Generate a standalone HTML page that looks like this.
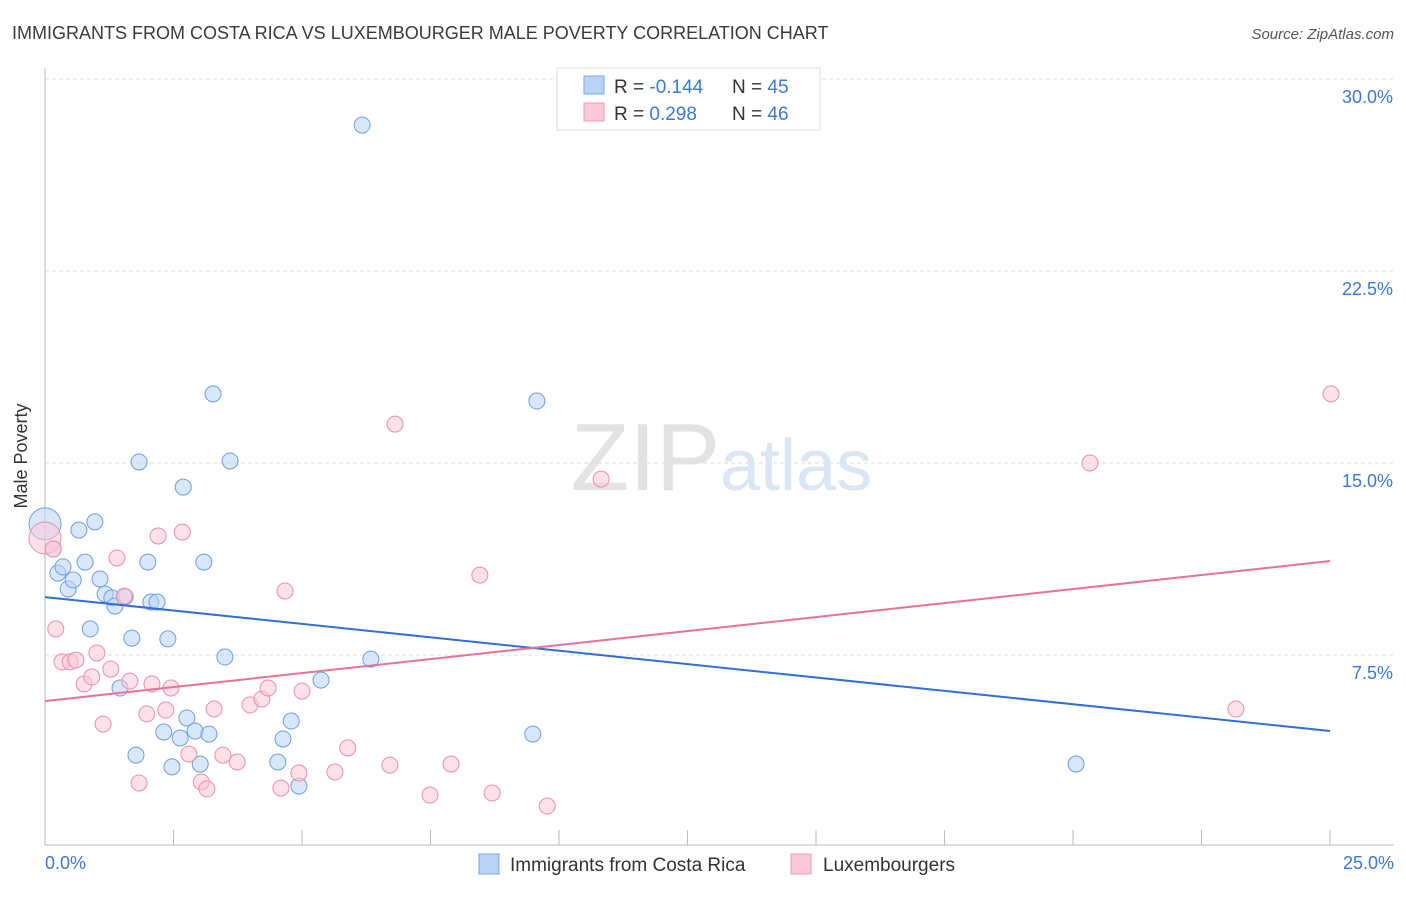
<!DOCTYPE html>
<html><head><meta charset="utf-8"><style>
body{margin:0;background:#fff;font-family:"Liberation Sans",sans-serif;}
svg text{font-family:"Liberation Sans",sans-serif;}
</style></head><body>
<svg id="chart" width="1406" height="892">
<text x="12" y="39" font-size="18" fill="#3a3a3a">IMMIGRANTS FROM COSTA RICA VS LUXEMBOURGER MALE POVERTY CORRELATION CHART</text>
<text x="1394" y="39" font-size="15" fill="#555" font-style="italic" text-anchor="end">Source: ZipAtlas.com</text>
<text x="27" y="456" font-size="18" fill="#333" text-anchor="middle" transform="rotate(-90 27 456)">Male Poverty</text>
<g id="grid"></g>
<text x="720" y="490" font-size="96" fill="#e3e3e3" text-anchor="end" font-family="Liberation Serif">ZIP</text>
<text x="720" y="490" font-size="72" fill="#dbe6f5">atlas</text>
<line x1="45" y1="68" x2="45" y2="845" stroke="#bbb"/>
<line x1="45" y1="845" x2="1394" y2="845" stroke="#bbb"/>
<g id="xt"></g>
<text x="45" y="869" font-size="18" fill="#3b78d8">0.0%</text>
<text x="1394" y="869" font-size="18" fill="#3b78d8" text-anchor="end">25.0%</text>
<g id="pts"></g>
<g id="lines"></g>
<g>
<rect x="557" y="68" width="263" height="62" fill="#fff" stroke="#ddd"/>
<rect x="584" y="76" width="20" height="18" fill="#b9d3f5" stroke="#7aa6e6"/>
<rect x="584" y="103" width="20" height="18" fill="#fbc9d7" stroke="#ef9ab3"/>
<text x="614" y="93" font-size="19" fill="#333">R = <tspan fill="#3b78d8">-0.144</tspan></text>
<text x="732" y="93" font-size="19" fill="#333">N = <tspan fill="#3b78d8">45</tspan></text>
<text x="614" y="120" font-size="19" fill="#333">R = <tspan fill="#3b78d8"> 0.298</tspan></text>
<text x="732" y="120" font-size="19" fill="#333">N = <tspan fill="#3b78d8">46</tspan></text>
</g>
<g>
<rect x="479" y="854" width="20" height="20" fill="#b9d3f5" stroke="#7aa6e6"/>
<text x="510" y="871" font-size="19" fill="#333">Immigrants from Costa Rica</text>
<rect x="791" y="854" width="20" height="20" fill="#fbc9d7" stroke="#ef9ab3"/>
<text x="823" y="871" font-size="19" fill="#333">Luxembourgers</text>
</g>
</svg>
<script>
const yTicks=[7.5,15,22.5,30];
const yTickLabels=["7.5%","15.0%","22.5%","30.0%"];
const blueX=[0,0.16,0.25,0.35,0.45,0.55,0.66,0.78,0.88,0.97,1.07,1.17,1.3,1.36,1.46,1.56,1.69,1.77,1.83,2.0,2.06,2.18,2.31,2.39,2.47,2.63,2.69,2.76,2.92,3.02,3.09,3.19,3.27,3.5,3.6,4.53,4.63,4.79,4.94,5.37,6.17,6.34,9.49,9.57,20.06];
const blueY=[12.62,11.64,10.7,10.94,10.08,10.43,12.38,11.13,8.52,12.7,10.47,9.88,9.73,9.41,6.21,9.77,8.16,3.59,15.04,11.13,9.57,9.57,4.49,8.13,3.13,4.26,14.06,5.04,4.53,3.24,11.13,4.41,17.7,7.42,15.08,3.32,4.22,4.92,2.38,6.52,28.2,7.34,4.41,17.42,3.24];
const pinkX=[0,0.16,0.21,0.33,0.49,0.6,0.76,0.91,1.01,1.13,1.28,1.4,1.54,1.65,1.83,1.98,2.08,2.2,2.35,2.45,2.67,2.8,3.04,3.15,3.29,3.46,3.74,3.99,4.22,4.34,4.59,4.67,4.94,5.0,5.64,5.89,6.71,6.81,7.49,7.9,8.46,8.7,9.77,10.82,20.33,23.17,25.02];
const pinkY=[12.07,11.64,8.52,7.23,7.23,7.3,6.37,6.64,7.58,4.8,6.95,11.29,9.8,6.48,2.5,5.2,6.37,12.15,5.35,6.21,12.3,3.63,2.54,2.27,5.39,3.59,3.32,5.55,5.78,6.21,2.3,10.0,2.89,6.09,2.93,3.87,3.2,16.52,2.03,3.24,10.62,2.11,1.6,14.37,15.0,5.39,17.7];
const blueTrend=[9.76,4.53];
const pinkTrend=[5.7,11.17];
const NS="http://www.w3.org/2000/svg";
const sx=v=>45+v/25*1285;
const sy=v=>847-v/7.5*192;
function mk(tag,attrs,parent){const e=document.createElementNS(NS,tag);for(const k in attrs)e.setAttribute(k,attrs[k]);parent.appendChild(e);return e;}
const grid=document.getElementById('grid');
yTicks.forEach((t,i)=>{
 const l=mk('line',{x1:45,x2:1394,y1:sy(t),y2:sy(t),stroke:'#ddd','stroke-dasharray':'4,3'},grid);
 
 
 const tx=mk('text',{x:1393,y:sy(t)+24,'font-size':18,fill:'#3b78d8','text-anchor':'end'},grid);
 tx.textContent=yTickLabels[i];
 
 
});
const xt=document.getElementById('xt');
for(let i=1;i<=10;i++){
 const l=mk('line',{x1:sx(i*2.5),x2:sx(i*2.5),y1:830,y2:845,stroke:'#bbb'},xt);
 
 
}
const pts=document.getElementById('pts');
function dots(X,Y,fill,stroke,name){
 X.forEach((x,i)=>{
  const r=i===0?16:8;
  const c=mk('circle',{cx:sx(x),cy:sy(Y[i]),r:r,fill:fill,'fill-opacity':0.55,stroke:stroke,'stroke-width':1},pts);
  
  
 });
}
dots(blueX,blueY,'#b9d3f5','#6f9fe0','costa-rica-point');
dots(pinkX,pinkY,'#fbc9d7','#ec8fab','luxembourger-point');
const lines=document.getElementById('lines');
const bl=mk('line',{x1:sx(0),y1:sy(blueTrend[0]),x2:sx(25),y2:sy(blueTrend[1]),stroke:'#2f6fd6','stroke-width':2},lines);


const pl=mk('line',{x1:sx(0),y1:sy(pinkTrend[0]),x2:sx(25),y2:sy(pinkTrend[1]),stroke:'#e8719a','stroke-width':2},lines);


</script>
</body></html>
